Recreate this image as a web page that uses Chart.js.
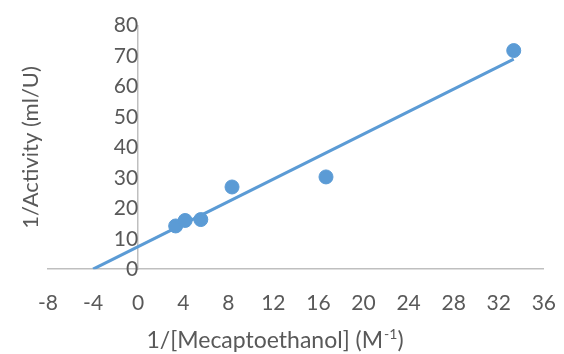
<!DOCTYPE html>
<html>
<head>
<meta charset="utf-8">
<script src="https://cdn.jsdelivr.net/npm/chart.js@4"></script>
<style>
  html, body { margin: 0; padding: 0; background: #fff; overflow: hidden; }
  #wrap { width: 577px; height: 354px; }
</style>
</head>
<body>
<div id="wrap"><canvas id="chart"></canvas></div>
<script>
// 1/[S] values and 1/activity readings
const invConc = [3.33, 4.17, 5.56, 8.33, 16.67, 33.33];
const invActivity = [14.2, 16.0, 16.3, 27.0, 30.3, 71.8];

// linear trendline end points (forecast back to y = 0)
const trendX = [-4.0, 33.33];
const trendY = [0, 69.0];

const xTitleMain = '1/[Mecaptoethanol] (M';
const xTitleSup = '-1';
const xTitleEnd = ')';
const yTitle = '1/Activity (ml/U)';

const blue = '#5B9BD5';
const textGray = '#595959';
const axisGray = '#BFBFBF';
const fontFamily = 'Lato, "Open Sans", sans-serif';

// axis titles drawn by hand (y axis sits at x = 0, x title has a superscript)
const titlesPlugin = {
    id: 'titles',
    afterDraw(chart) {
        const ctx = chart.ctx;
        const area = chart.chartArea;
        ctx.save();
        ctx.fillStyle = textGray;
        ctx.textBaseline = 'middle';

        // y title
        ctx.save();
        ctx.translate(31, (area.top + area.bottom) / 2);
        ctx.rotate(-Math.PI / 2);
        ctx.font = '22px ' + fontFamily;
        ctx.textAlign = 'center';
        ctx.fillText(yTitle, 0, 0);
        ctx.restore();

        // x title with superscript
        const big = '23px ' + fontFamily;
        const small = '14px ' + fontFamily;
        ctx.font = big;
        const w1 = ctx.measureText(xTitleMain).width;
        const w3 = ctx.measureText(xTitleEnd).width;
        ctx.font = small;
        const w2 = ctx.measureText(xTitleSup).width + 1;
        let x = 275 - (w1 + w2 + w3) / 2;
        const y = 341;
        ctx.textAlign = 'left';
        ctx.font = big;
        ctx.fillText(xTitleMain, x, y);
        x += w1;
        ctx.font = small;
        ctx.fillText(xTitleSup, x + 1, y - 7);
        x += w2;
        ctx.font = big;
        ctx.fillText(xTitleEnd, x, y);
        ctx.restore();
    }
};

const ctx = document.getElementById('chart').getContext('2d');
new Chart(ctx, {
    type: 'scatter',
    data: {
        datasets: [{
            label: 'data',
            data: invConc.map((x, i) => ({ x: x, y: invActivity[i] })),
            backgroundColor: blue,
            borderColor: blue,
            pointRadius: 7,
            pointHoverRadius: 7,
            order: 1
        }, {
            label: 'trend',
            type: 'line',
            data: trendX.map((x, i) => ({ x: x, y: trendY[i] })),
            borderColor: blue,
            borderWidth: 3,
            pointRadius: 0,
            fill: false,
            order: 2
        }]
    },
    options: {
        responsive: true,
        maintainAspectRatio: false,
        animation: false,
        layout: { autoPadding: false, padding: { left: 48, right: 0, top: 21, bottom: -2 } },
        plugins: {
            legend: { display: false },
            tooltip: { enabled: false }
        },
        scales: {
            x: {
                type: 'linear',
                min: -8,
                max: 36,
                grid: { drawOnChartArea: false, drawTicks: false },
                border: { color: axisGray, width: 1.5 },
                ticks: {
                    stepSize: 4,
                    color: textGray,
                    padding: 21,
                    font: { family: fontFamily, size: 21 }
                },
                // keeps the room for the hand drawn title
                title: {
                    display: true,
                    text: ' ',
                    font: { family: fontFamily, size: 23 },
                    padding: { top: -8, bottom: 0 }
                }
            },
            y: {
                type: 'linear',
                position: { x: 0 },
                min: 0,
                max: 80,
                grid: { drawOnChartArea: false, drawTicks: false },
                border: { color: axisGray, width: 1.5 },
                ticks: {
                    stepSize: 10,
                    color: textGray,
                    padding: 13,
                    font: { family: fontFamily, size: 21 }
                }
            }
        }
    },
    plugins: [titlesPlugin]
});
</script>
</body>
</html>
